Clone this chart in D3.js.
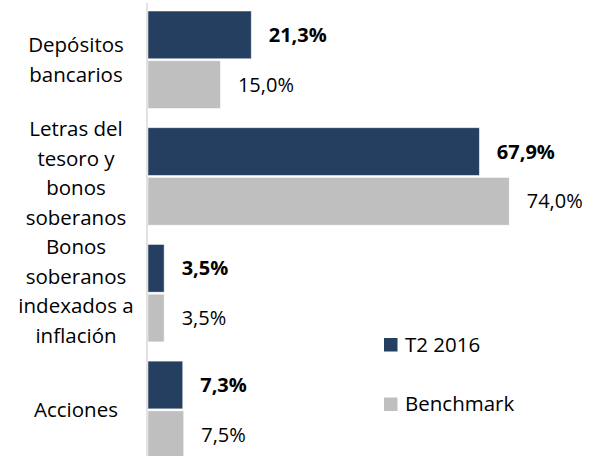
<!DOCTYPE html>
<html>
<head>
<meta charset="utf-8">
<script src="https://cdn.jsdelivr.net/npm/d3@7/dist/d3.min.js"></script>
<style>
  html, body { margin: 0; padding: 0; background: #fff; }
  svg { display: block; font-family: "Open Sans", "Noto Sans", sans-serif; }
</style>
</head>
<body>
<svg id="chart" width="589" height="456"></svg>
<script>
const categories = ["Depósitos bancarios", "Letras del tesoro y bonos soberanos", "Bonos soberanos indexados a inflación", "Acciones"];
const categoryLines = [["Depósitos", "bancarios"], ["Letras del", "tesoro y", "bonos", "soberanos"], ["Bonos", "soberanos", "indexados a", "inflación"], ["Acciones"]];
const seriesNames = ["T2 2016", "Benchmark"];
const t2Values = [21.3, 67.9, 3.5, 7.3];
const benchmarkValues = [15.0, 74.0, 3.5, 7.5];
const colors = ["#243F60", "#BFBFBF"];

const svg = d3.select("#chart");
const x0 = 147;
const pxPerPct = 4.895;
const x = d3.scaleLinear().domain([0, 100]).range([x0, x0 + 100 * pxPerPct]);
const y = d3.scaleBand().domain(categories).range([1.4, 1.4 + 116.7 * 4]).paddingInner(0.165).paddingOuter(0.0825);
const ySub = d3.scaleBand().domain(seriesNames).range([0, y.bandwidth()]).paddingInner(0.04);

const fmt = v => d3.format(".1f")(v).replace(".", ",") + "%";

const data = [];
categories.forEach((c, i) => {
  data.push({ cat: c, s: seriesNames[0], v: t2Values[i], idx: 0 });
  data.push({ cat: c, s: seriesNames[1], v: benchmarkValues[i], idx: 1 });
});

// bars
svg.append("g").selectAll("rect").data(data).join("rect")
  .attr("x", x(0) + 1)
  .attr("y", d => y(d.cat) + ySub(d.s))
  .attr("width", d => x(d.v) - x(0) - 1)
  .attr("height", ySub.bandwidth())
  .attr("fill", d => colors[d.idx])
  .attr("stroke", "#ffffff")
  .attr("stroke-opacity", 0.6)
  .attr("stroke-width", 0.8);

// axis line
svg.append("line")
  .attr("x1", x0).attr("x2", x0)
  .attr("y1", 3).attr("y2", 456)
  .attr("stroke", "#D9D9D9").attr("stroke-width", 1.5);

// value labels
svg.append("g").selectAll("text").data(data).join("text")
  .attr("x", d => x(d.v) + 17.5)
  .attr("y", d => y(d.cat) + ySub(d.s) + ySub.bandwidth() / 2)
  .attr("dy", "0.35em")
  .attr("font-size", 20)
  .attr("font-weight", d => d.idx === 0 ? "bold" : "normal")
  .attr("fill", "#000")
  .text(d => fmt(d.v));

// category labels
const lh = 29.5;
const labelShift = [0, -3, -2, 0];
categories.forEach((c, i) => {
  const lines = categoryLines[i];
  const cy = y(c) + y.bandwidth() / 2 + labelShift[i];
  const t = svg.append("text")
    .attr("text-anchor", "middle")
    .attr("font-size", 20.5)
    .attr("fill", "#000");
  lines.forEach((ln, j) => {
    t.append("tspan")
      .attr("x", 76)
      .attr("y", cy + (j - (lines.length - 1) / 2) * lh)
      .attr("dy", "0.35em")
      .text(ln);
  });
});

// legend
const legendY = [344.5, 404];
seriesNames.forEach((s, i) => {
  svg.append("rect")
    .attr("x", 384).attr("y", legendY[i] - 6.5)
    .attr("width", 13.5).attr("height", 13.5)
    .attr("fill", colors[i]);
  svg.append("text")
    .attr("x", 405).attr("y", legendY[i])
    .attr("dy", "0.35em")
    .attr("font-size", 20.5)
    .attr("fill", "#000")
    .text(s);
});
</script>
</body>
</html>
